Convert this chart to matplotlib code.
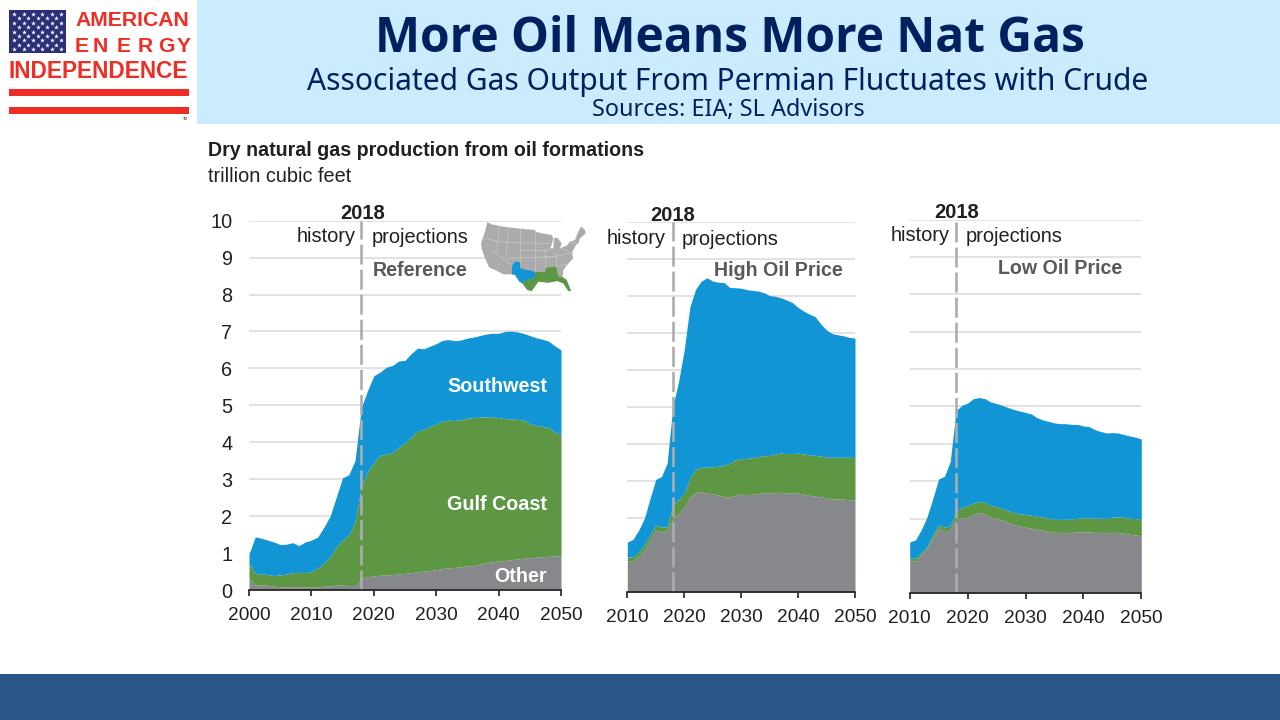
import numpy as np
import matplotlib
matplotlib.use("Agg")
import matplotlib.pyplot as plt
from matplotlib.patches import Rectangle, Polygon

W, H = 1280, 720

BLUE = "#1295D4"
GREEN = "#5D9743"
GRAY = "#87888C"
NAVY = "#002060"
RED = "#EE2E24"
DARK = "#231F20"
LABEL_GRAY = "#58595B"

years_ref = list(range(2000, 2051))
years_alt = list(range(2010, 2051))

# all values are the top edge of each stacked band, trillion cubic feet
ref_other = [.32, .14, .14, .13, .10, .09, .08, .09, .09, .08, .08, .09, .10, .11, .13, .13, .12, .12, .30,
             .36, .38, .40, .41, .42, .43, .45, .47, .49, .51, .53, .55, .58, .60, .61, .63, .65, .66, .70,
             .74, .77, .78, .80, .82, .84, .86, .87, .89, .90, .91, .92, .93]
ref_gulf = [.72, .45, .43, .42, .39, .41, .43, .47, .48, .47, .50, .59, .72, .90, 1.17, 1.35, 1.49, 1.85, 2.79,
            3.20, 3.44, 3.65, 3.68, 3.72, 3.87, 3.98, 4.14, 4.31, 4.34, 4.43, 4.49, 4.57, 4.60, 4.59, 4.61,
            4.65, 4.67, 4.68, 4.69, 4.68, 4.67, 4.64, 4.63, 4.62, 4.60, 4.50, 4.46, 4.43, 4.40, 4.27, 4.22]
ref_total = [.97, 1.44, 1.40, 1.35, 1.30, 1.23, 1.24, 1.28, 1.20, 1.30, 1.35, 1.43, 1.70, 2.00, 2.52, 3.04, 3.12,
             3.51, 4.94, 5.40, 5.80, 5.90, 6.03, 6.08, 6.20, 6.22, 6.40, 6.55, 6.53, 6.60, 6.67, 6.76, 6.78,
             6.75, 6.77, 6.82, 6.85, 6.89, 6.93, 6.95, 6.95, 7.00, 7.01, 6.99, 6.95, 6.89, 6.83, 6.79, 6.74,
             6.61, 6.50]

high_other = [.83, .85, .98, 1.14, 1.41, 1.68, 1.63, 1.68, 2.00, 2.12, 2.30, 2.57, 2.70, 2.71, 2.68, 2.66, 2.63,
              2.58, 2.58, 2.62, 2.65, 2.64, 2.65, 2.67, 2.68, 2.68, 2.70, 2.70, 2.68, 2.68, 2.68, 2.65, 2.62,
              2.60, 2.58, 2.55, 2.52, 2.52, 2.52, 2.50, 2.49]
high_gulf = [.95, .95, 1.10, 1.28, 1.55, 1.82, 1.76, 1.77, 2.36, 2.51, 2.68, 3.08, 3.32, 3.38, 3.38, 3.39, 3.41,
             3.43, 3.49, 3.58, 3.61, 3.62, 3.64, 3.67, 3.69, 3.70, 3.74, 3.76, 3.75, 3.75, 3.76, 3.74, 3.71,
             3.70, 3.68, 3.66, 3.65, 3.65, 3.65, 3.65, 3.64]
high_total = [1.36, 1.43, 1.68, 2.00, 2.54, 3.05, 3.13, 3.49, 5.02, 5.69, 6.55, 7.72, 8.19, 8.41, 8.50, 8.41, 8.38,
              8.37, 8.24, 8.23, 8.22, 8.18, 8.16, 8.14, 8.10, 8.02, 8.00, 7.96, 7.90, 7.83, 7.70, 7.60, 7.52,
              7.45, 7.25, 7.09, 6.99, 6.96, 6.93, 6.89, 6.87]

low_other = [.87, .87, 1.03, 1.21, 1.47, 1.74, 1.65, 1.70, 2.00, 2.02, 2.03, 2.10, 2.16, 2.13, 2.04, 2.00, 1.96,
             1.89, 1.84, 1.80, 1.77, 1.74, 1.71, 1.69, 1.66, 1.63, 1.63, 1.62, 1.63, 1.64, 1.65, 1.64, 1.63,
             1.63, 1.62, 1.63, 1.63, 1.61, 1.58, 1.56, 1.54]
low_gulf = [.94, .94, 1.09, 1.25, 1.56, 1.83, 1.77, 1.80, 2.17, 2.31, 2.34, 2.41, 2.46, 2.44, 2.35, 2.32, 2.27,
            2.21, 2.16, 2.13, 2.11, 2.09, 2.06, 2.04, 2.01, 1.98, 1.98, 1.98, 1.99, 2.01, 2.02, 2.02, 2.01,
            2.01, 2.00, 2.04, 2.04, 2.03, 2.01, 2.00, 1.97]
low_total = [1.37, 1.43, 1.70, 2.05, 2.54, 3.06, 3.13, 3.53, 4.89, 5.03, 5.09, 5.21, 5.24, 5.21, 5.12, 5.08, 5.03,
             4.97, 4.92, 4.88, 4.84, 4.80, 4.70, 4.64, 4.60, 4.56, 4.54, 4.54, 4.52, 4.52, 4.48, 4.46, 4.38,
             4.33, 4.29, 4.30, 4.29, 4.25, 4.21, 4.18, 4.13]

ref_xticks = [2000, 2010, 2020, 2030, 2040, 2050]
alt_xticks = [2010, 2020, 2030, 2040, 2050]
yticks = list(range(0, 11))

# map shapes, traced on a 375x255 grid
us_outline = [(52, 22), (65, 28), (100, 35), (140, 40), (195, 45), (197, 50), (215, 55), (245, 60), (250, 70),
              (245, 90), (240, 100), (250, 100), (252, 70), (262, 68), (275, 85), (270, 100), (290, 92), (300, 80),
              (315, 75), (325, 50), (333, 35), (345, 45), (347, 55), (330, 70), (325, 85), (318, 90), (310, 105),
              (305, 115), (310, 130), (295, 145), (280, 165), (278, 185), (290, 195), (303, 228), (295, 228),
              (280, 205), (262, 198), (235, 203), (205, 200), (185, 228), (172, 225), (157, 205), (150, 200),
              (135, 178), (125, 178), (100, 178), (75, 165), (58, 158), (45, 130), (35, 100), (33, 85), (45, 50)]
sw_states = [(135, 140), (150, 142), (150, 160), (195, 170), (195, 190), (170, 195), (157, 205), (148, 200),
             (135, 180), (125, 178), (127, 150)]
gulf_states = [(195, 170), (225, 172), (228, 158), (258, 155), (265, 185), (278, 187), (290, 195), (303, 228),
               (295, 228), (280, 205), (262, 198), (235, 203), (205, 200), (185, 228), (172, 225), (157, 205),
               (170, 195), (195, 190)]
state_lines = [[(38, 70), (105, 82)], [(88, 35), (80, 110)], [(115, 38), (108, 130)], [(150, 42), (150, 142)],
               [(195, 50), (195, 170)], [(105, 82), (240, 85)], [(108, 130), (260, 125)], [(225, 100), (228, 158)],
               [(258, 110), (258, 155)], [(62, 105), (127, 150)], [(228, 128), (310, 115)], [(265, 155), (295, 145)],
               [(150, 105), (240, 105)], [(270, 100), (300, 110)], [(300, 80), (320, 85)]]

star_rows = 9
star_cols = 6


def px(x, y):
    return x / W, 1 - y / H


def add_text(fig, x, y, s, **kw):
    kw.setdefault("va", "center")
    kw.setdefault("family", "Liberation Sans")
    fig.text(*px(x, y), s, **kw)


def draw_panel(fig, box, years, other, gulf, total, xticks, show_y=False):
    left, right, top, bottom = box
    ax = fig.add_axes([left / W, 1 - bottom / H, (right - left) / W, (bottom - top) / H])
    ax.set_xlim(years[0], years[-1])
    ax.set_ylim(0, 10)
    ax.patch.set_alpha(0)
    for s in ["top", "left", "right"]:
        ax.spines[s].set_visible(False)
    ax.spines["bottom"].set_linewidth(1.2)
    ax.spines["bottom"].set_color(DARK)
    ax.yaxis.grid(True, color="#DDDDDD", lw=1.2)
    ax.set_axisbelow(True)
    ax.fill_between(years, 0, other, color=GRAY, lw=0)
    ax.fill_between(years, other, gulf, color=GREEN, lw=0)
    ax.fill_between(years, gulf, total, color=BLUE, lw=0)
    ax.axvline(2018, color="#ABADB0", lw=1.9, dashes=(7.6, 1.9))
    ax.set_xticks(xticks)
    ax.set_yticks(yticks)
    ax.tick_params(axis="x", length=4, width=1.2, color=DARK, labelsize=13.8, labelcolor=DARK, pad=8)
    ax.tick_params(axis="y", length=0, labelsize=14.3, labelcolor=DARK, pad=12, labelleft=show_y)
    for lab in ax.get_xticklabels() + ax.get_yticklabels():
        lab.set_family("Liberation Sans")
    return ax


def draw_labels(fig, line_x, y_2018, y_hist, name, name_x, name_y):
    add_text(fig, line_x + 1, y_2018 + 1, "2018", ha="center", fontsize=14.5, weight="bold", color=DARK)
    add_text(fig, line_x - 6, y_hist + 1, "history", ha="right", fontsize=14.4, color=DARK)
    add_text(fig, line_x + 10, y_hist + 2, "projections", ha="left", fontsize=14.4, color=DARK)
    add_text(fig, name_x, name_y + 1, name, ha="left", fontsize=14.1, weight="bold", color=LABEL_GRAY)


def draw_logo(fig):
    ax = fig.add_axes([0, 0, 1, 1])
    ax.set_xlim(0, W)
    ax.set_ylim(H, 0)
    ax.axis("off")
    ax.add_patch(Rectangle((197, 0), W - 197, 124, color="#CCEBFF", lw=0))
    ax.add_patch(Rectangle((0, 674), W, 46, color="#2A5788", lw=0))
    ax.add_patch(Rectangle((9, 10), 57, 43, color="#2B2F77", lw=0))
    sx, sy = [], []
    for row in range(star_rows):
        odd = row % 2
        for col in range(star_cols - odd):
            sx.append(14.3 + col * 9.3 + odd * 4.65)
            sy.append(14 + row * 4.4)
    ax.scatter(sx, sy, marker="*", s=13, color="white", lw=0)
    ax.add_patch(Rectangle((9, 89), 180, 7, color=RED, lw=0))
    ax.add_patch(Rectangle((9, 107), 180, 7, color=RED, lw=0))
    ax.text(75, 20.5, "AMERICAN", fontsize=15.2, weight="bold", color=RED, family="Liberation Sans", va="center")
    for x, ch in zip([75, 93, 117, 138, 158, 177], "ENERGY"):
        ax.text(x, 46, ch, fontsize=15.2, weight="bold", color=RED, family="Liberation Sans", va="center")
    ax.text(9, 71.5, "INDEPENDENCE", fontsize=16.3, weight="bold", color=RED, family="Liberation Sans", va="center")
    ax.text(183, 118.5, "TM", fontsize=2.5, color=DARK, family="Liberation Sans", va="center")


def draw_map(fig):
    ax = fig.add_axes([470 / W, 1 - 300 / H, 125 / W, 85 / H])
    ax.set_xlim(0, 375)
    ax.set_ylim(255, 0)
    ax.axis("off")
    ax.add_patch(Polygon(us_outline, closed=True, color="#ABABAB", lw=0))
    for line in state_lines:
        xs, ys = zip(*line)
        ax.plot(xs, ys, color="#C9C9C9", lw=0.5)
    ax.add_patch(Polygon(sw_states, closed=True, color=BLUE, lw=0))
    ax.add_patch(Polygon(gulf_states, closed=True, color=GREEN, lw=0))


def main():
    fig = plt.figure(figsize=(W / 100, H / 100), dpi=100)
    draw_logo(fig)

    add_text(fig, 730, 39, "More Oil Means More Nat Gas", ha="center", fontsize=34.5, weight="bold",
             color=NAVY, family="Open Sans")
    add_text(fig, 728, 82, "Associated Gas Output From Permian Fluctuates with Crude", ha="center", fontsize=21.6,
             color=NAVY, family="Noto Sans")
    add_text(fig, 728, 110, "Sources: EIA; SL Advisors", ha="center", fontsize=16.9, color=NAVY, family="Noto Sans")

    add_text(fig, 208, 150, "Dry natural gas production from oil formations", fontsize=14.1, weight="bold",
             color=DARK)
    add_text(fig, 208, 177, "trillion cubic feet", fontsize=14.3, color=DARK)

    draw_panel(fig, (249, 561, 220.7, 590), years_ref, ref_other, ref_gulf, ref_total, ref_xticks, show_y=True)
    draw_panel(fig, (627.3, 855, 222.3, 592.3), years_alt, high_other, high_gulf, high_total, alt_xticks)
    draw_panel(fig, (909.7, 1141.3, 219.7, 593.3), years_alt, low_other, low_gulf, low_total, alt_xticks)

    draw_labels(fig, 361.5, 212, 236, "Reference", 373, 269)
    draw_labels(fig, 672, 214, 238, "High Oil Price", 714, 270)
    draw_labels(fig, 955.5, 211, 235, "Low Oil Price", 998, 268)

    for y, s in zip([387, 505, 576], ["Southwest", "Gulf Coast", "Other"]):
        add_text(fig, 547, y, s, ha="right", fontsize=14.2, weight="bold", color="white")

    draw_map(fig)
    fig.savefig("out.png", dpi=100)


if __name__ == "__main__":
    main()
